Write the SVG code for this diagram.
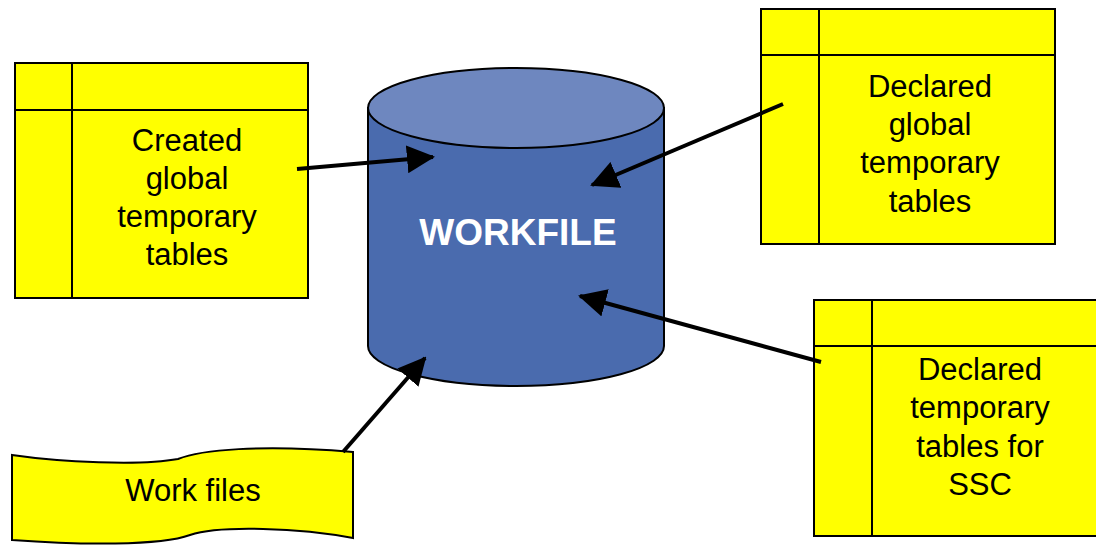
<svg xmlns="http://www.w3.org/2000/svg" width="1096" height="547" viewBox="0 0 1096 547">
<style>
.tbl{fill:#FFFF00;stroke:#000;stroke-width:2}
.ln{stroke:#000;stroke-width:2;fill:none}
.lbl{font-family:"Liberation Sans",Arial,sans-serif;font-size:31px;fill:#000;text-anchor:middle}
.conn{stroke:#000;stroke-width:4;fill:none;marker-end:url(#ah)}
</style>
<defs>
<marker id="ah" markerUnits="userSpaceOnUse" markerWidth="28" markerHeight="28" refX="26" refY="14" orient="auto">
<path d="M0,0 L28,14 L0,28 Z" fill="#000"/>
</marker>
</defs>
<rect width="1096" height="547" fill="#fff"/>
<g id="workfile">
<path d="M368,108 L368,346 A148,40 0 0 0 664,346 L664,108 Z" fill="#4A6BAE" stroke="#000" stroke-width="2"/>
<ellipse cx="516" cy="108" rx="148" ry="40" fill="#6E87BF" stroke="#000" stroke-width="2"/>
<text x="518" y="245" font-family="Liberation Sans,Arial,sans-serif" font-size="37" font-weight="bold" fill="#fff" text-anchor="middle">WORKFILE</text>
</g>
<g id="created">
<rect class="tbl" x="15" y="63" width="293" height="235"/>
<line class="ln" x1="72" y1="63" x2="72" y2="298"/>
<line class="ln" x1="15" y1="110" x2="308" y2="110"/>
<text class="lbl"><tspan x="187" y="151">Created</tspan><tspan x="187" y="189">global</tspan><tspan x="187" y="227">temporary</tspan><tspan x="187" y="265">tables</tspan></text>
</g>
<g id="declared-global">
<rect class="tbl" x="761" y="9" width="294" height="235"/>
<line class="ln" x1="819" y1="9" x2="819" y2="244"/>
<line class="ln" x1="761" y1="55" x2="1055" y2="55"/>
<text class="lbl"><tspan x="930" y="97">Declared</tspan><tspan x="930" y="135">global</tspan><tspan x="930" y="173">temporary</tspan><tspan x="930" y="212">tables</tspan></text>
</g>
<g id="declared-ssc">
<rect class="tbl" x="814" y="300" width="286" height="236"/>
<line class="ln" x1="872" y1="300" x2="872" y2="536"/>
<line class="ln" x1="814" y1="346" x2="1100" y2="346"/>
<text class="lbl"><tspan x="980" y="380">Declared</tspan><tspan x="980" y="418">temporary</tspan><tspan x="980" y="457">tables for</tspan><tspan x="980" y="495">SSC</tspan></text>
</g>
<g id="work-files">
<path class="tbl" d="M12,455 C60,462 140,466 178,459 C200,450 260,444 353,452 L353,538 C300,528 220,525 190,535 C160,546 80,545 12,540 Z"/>
<text class="lbl" x="193" y="501">Work files</text>
</g>
<g id="connectors">
<line class="conn" x1="297" y1="169" x2="433" y2="157"/>
<line class="conn" x1="783" y1="104" x2="592" y2="185"/>
<line class="conn" x1="821" y1="362" x2="580" y2="296"/>
<line class="conn" x1="343" y1="452" x2="425" y2="358"/>
</g>
</svg>
